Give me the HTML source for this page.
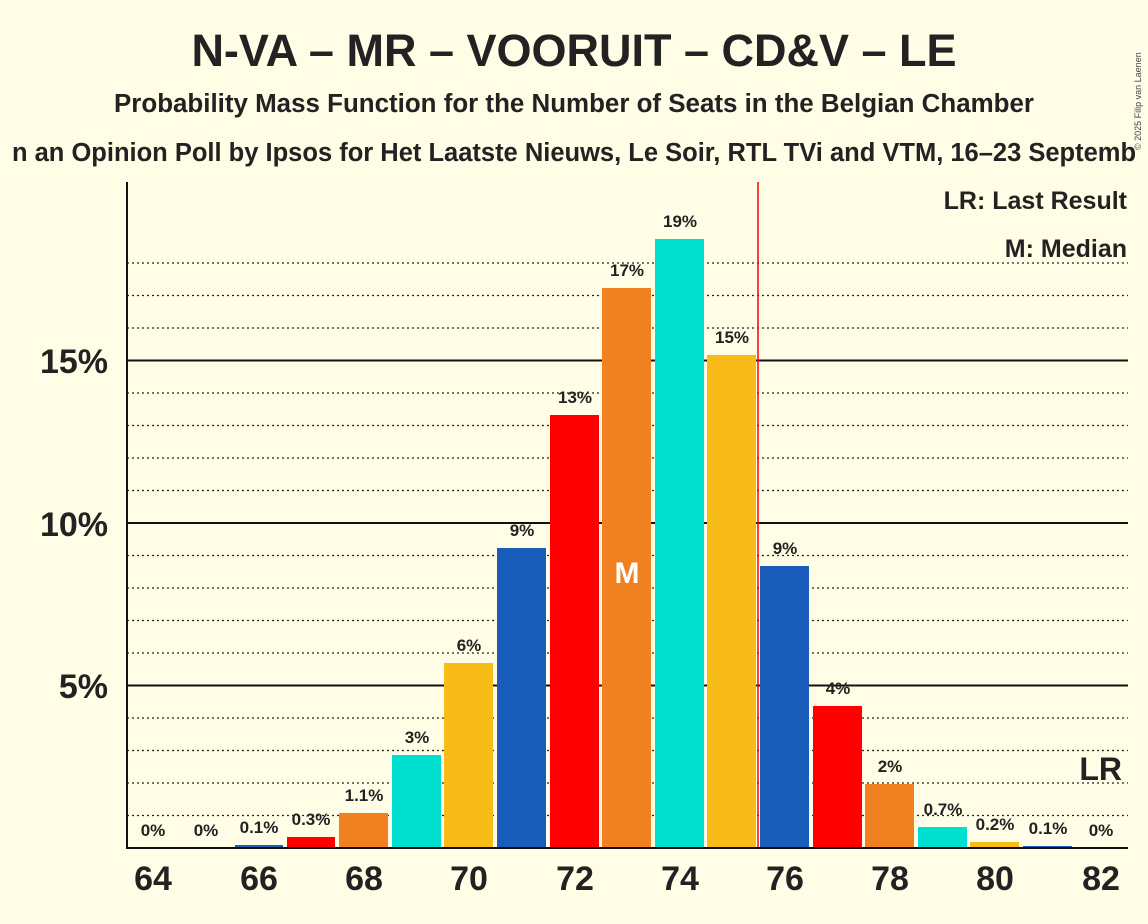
<!DOCTYPE html>
<html><head><meta charset="utf-8"><style>
body{margin:0;background:#fffde6;}
svg{display:block;font-family:"Liberation Sans",sans-serif;}
</style></head><body>
<svg width="1148" height="924" viewBox="0 0 1148 924" xmlns="http://www.w3.org/2000/svg">
<rect width="1148" height="924" fill="#fffde6"/>
<text x="574" y="66" text-anchor="middle" font-size="45" font-weight="bold" fill="#222">N-VA – MR – VOORUIT – CD&amp;V – LE</text>
<text x="574" y="112" text-anchor="middle" font-size="25.5" font-weight="bold" fill="#222" textLength="920" lengthAdjust="spacingAndGlyphs">Probability Mass Function for the Number of Seats in the Belgian Chamber</text>
<text x="574" y="161" text-anchor="middle" font-size="25.5" font-weight="bold" fill="#222">n an Opinion Poll by Ipsos for Het Laatste Nieuws, Le Soir, RTL TVi and VTM, 16–23 Septemb</text>
<text x="1141" y="150" font-size="9" fill="#444" transform="rotate(-90 1141 150)">© 2025 Filip van Laenen</text>
<g stroke="#222" stroke-width="1.2" stroke-dasharray="2,3">
<line x1="127" x2="1128" y1="815.5" y2="815.5"/><line x1="127" x2="1128" y1="783" y2="783"/><line x1="127" x2="1128" y1="750.5" y2="750.5"/><line x1="127" x2="1128" y1="718" y2="718"/>
<line x1="127" x2="1128" y1="653" y2="653"/><line x1="127" x2="1128" y1="620.5" y2="620.5"/><line x1="127" x2="1128" y1="588" y2="588"/><line x1="127" x2="1128" y1="555.5" y2="555.5"/>
<line x1="127" x2="1128" y1="490.5" y2="490.5"/><line x1="127" x2="1128" y1="458" y2="458"/><line x1="127" x2="1128" y1="425.5" y2="425.5"/><line x1="127" x2="1128" y1="393" y2="393"/>
<line x1="127" x2="1128" y1="328" y2="328"/><line x1="127" x2="1128" y1="295.5" y2="295.5"/><line x1="127" x2="1128" y1="263" y2="263"/>
</g>
<g stroke="#111" stroke-width="2">
<line x1="127" x2="1128" y1="685.5" y2="685.5"/><line x1="127" x2="1128" y1="523" y2="523"/><line x1="127" x2="1128" y1="360.5" y2="360.5"/>
</g>
<g font-size="34" font-weight="bold" fill="#222" text-anchor="end">
<text x="108" y="698">5%</text><text x="108" y="536">10%</text><text x="108" y="373">15%</text>
</g>
<g>
<rect x="235" y="845" width="48" height="3" fill="#1a5cba"/>
<rect x="287" y="837" width="48" height="11" fill="#f00"/>
<rect x="339" y="813" width="49" height="35" fill="#f08020"/>
<rect x="392" y="755" width="49" height="93" fill="#00e0d0"/>
<rect x="444" y="663" width="49" height="185" fill="#f8bc18"/>
<rect x="497" y="548" width="49" height="300" fill="#1a5cba"/>
<rect x="550" y="415" width="49" height="433" fill="#f00"/>
<rect x="602" y="288" width="49" height="560" fill="#f08020"/>
<rect x="655" y="239" width="49" height="609" fill="#00e0d0"/>
<rect x="707" y="355" width="49" height="493" fill="#f8bc18"/>
<rect x="760" y="566" width="49" height="282" fill="#1a5cba"/>
<rect x="813" y="706" width="49" height="142" fill="#f00"/>
<rect x="865" y="784" width="49" height="64" fill="#f08020"/>
<rect x="918" y="827" width="49" height="21" fill="#00e0d0"/>
<rect x="970" y="842" width="49" height="6" fill="#f8bc18"/>
<rect x="1023" y="846" width="49" height="2" fill="#1a5cba"/>
</g>
<line x1="758" x2="758" y1="182" y2="848" stroke="#f00" stroke-width="1.5"/>
<line x1="127" x2="127" y1="182" y2="849" stroke="#111" stroke-width="2"/>
<line x1="126" x2="1128" y1="848" y2="848" stroke="#111" stroke-width="2"/>
<text x="627" y="583" text-anchor="middle" font-size="30" font-weight="bold" fill="#fff">M</text>
<g font-size="17" font-weight="bold" fill="#222" text-anchor="middle">
<text x="153" y="836">0%</text><text x="206" y="836">0%</text><text x="259" y="833">0.1%</text><text x="311" y="825">0.3%</text>
<text x="364" y="801">1.1%</text><text x="417" y="743">3%</text><text x="469" y="651">6%</text><text x="522" y="536">9%</text>
<text x="575" y="403">13%</text><text x="627" y="276">17%</text><text x="680" y="227">19%</text><text x="732" y="343">15%</text>
<text x="785" y="554">9%</text><text x="838" y="694">4%</text><text x="890" y="772">2%</text><text x="943" y="815">0.7%</text>
<text x="995" y="830">0.2%</text><text x="1048" y="834">0.1%</text><text x="1101" y="836">0%</text>
</g>
<g font-size="34" font-weight="bold" fill="#222" text-anchor="middle">
<text x="153" y="890">64</text><text x="259" y="890">66</text><text x="364" y="890">68</text><text x="469" y="890">70</text>
<text x="575" y="890">72</text><text x="680" y="890">74</text><text x="785" y="890">76</text><text x="890" y="890">78</text>
<text x="995" y="890">80</text><text x="1101" y="890">82</text>
</g>
<text x="1122" y="780" text-anchor="end" font-size="32" font-weight="bold" fill="#222">LR</text>
<text x="1127" y="209" text-anchor="end" font-size="25" font-weight="bold" fill="#222">LR: Last Result</text>
<text x="1127" y="257" text-anchor="end" font-size="25" font-weight="bold" fill="#222">M: Median</text>
</svg>
</body></html>
